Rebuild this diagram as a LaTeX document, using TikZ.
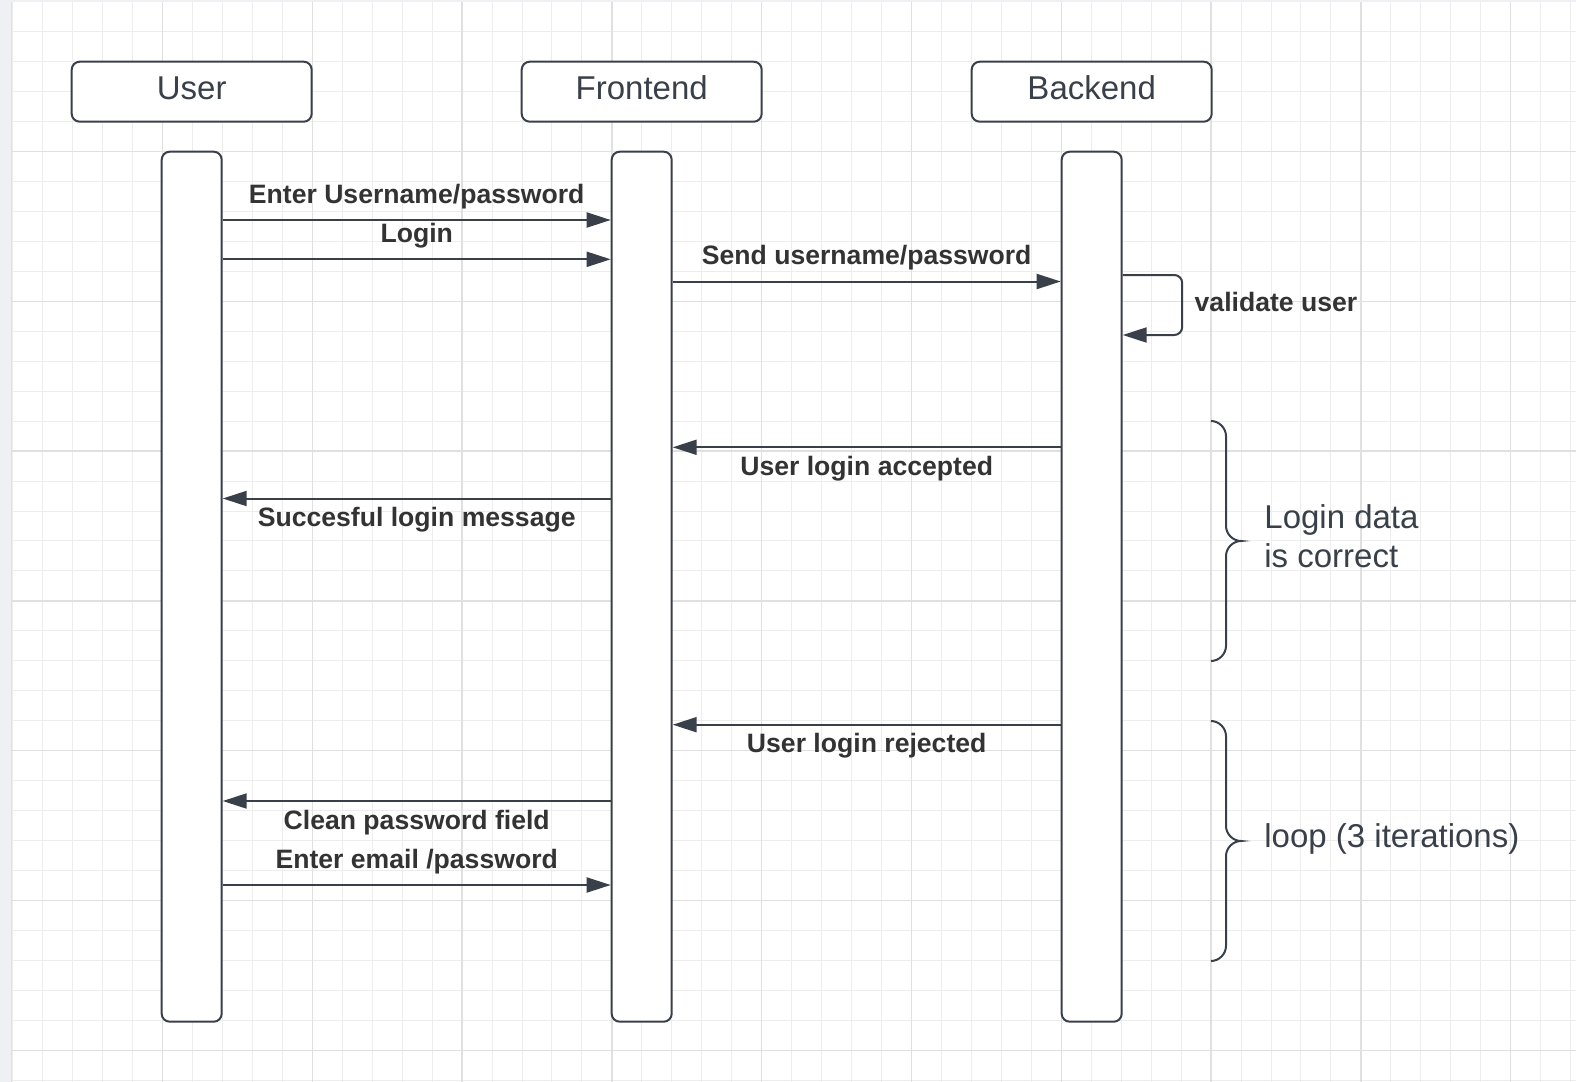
\documentclass[tikz,border=0pt]{standalone}
\usepackage{fontspec}
\setmainfont{Liberation Sans}
\usetikzlibrary{arrows.meta}
\definecolor{inkgray}{HTML}{3A4049}
\definecolor{labelgray}{HTML}{333333}
\definecolor{gridminor}{HTML}{EDEDED}
\definecolor{gridmajor}{HTML}{E0E0E0}
\definecolor{sidestrip}{HTML}{EEF0F3}

\begin{document}
\begin{tikzpicture}[x=0.5pt, y=-0.5pt,
  actor/.style={draw=inkgray, line width=1pt, fill=white, rounded corners=4pt, minimum width=120pt, minimum height=30pt, inner sep=0pt, font=\fontsize{16.5pt}{19.5pt}\selectfont, text=inkgray, text height=10pt, text depth=2.4pt},
  lifebar/.style={draw=inkgray, line width=1pt, fill=white, rounded corners=4pt, minimum width=30pt, minimum height=435pt, inner sep=0pt},
  msg/.style={draw=inkgray, line width=1pt, -{Triangle[length=12pt, width=7.5pt]}},
  msglabel/.style={font=\fontsize{13.3pt}{16pt}\selectfont\bfseries, text=labelgray, anchor=base, inner sep=0pt},
  note/.style={font=\fontsize{16.5pt}{19.5pt}\selectfont, text=inkgray, anchor=base west, align=left, inner sep=0pt},
  bracket/.style={draw=inkgray, line width=1pt}]
\useasboundingbox (0,0) rectangle (1576,1082);
\fill[white] (0,0) rectangle (1576,1082);
% grid paper
\foreach \i in {0,...,52} \draw[gridminor, line width=0.5pt] (12.7+29.96*\i,0) -- (12.7+29.96*\i,1082);
\foreach \j in {0,...,36} \draw[gridminor, line width=0.5pt] (12,1.7+29.96*\j) -- (1576,1.7+29.96*\j);
\foreach \i in {5,10,...,50} \draw[gridmajor, line width=0.7pt] (12.7+29.96*\i,0) -- (12.7+29.96*\i,1082);
\foreach \j in {5,10,...,35} \draw[gridmajor, line width=0.7pt] (12,1.7+29.96*\j) -- (1576,1.7+29.96*\j);
\fill[sidestrip] (0,0) rectangle (12,1082);
\fill[sidestrip] (0,0) rectangle (1576,2);
\draw[gridmajor, line width=0.5pt] (11.5,2) -- (11.5,1082);

% participants
\node[actor] (user) at (191.7,91.7) {User};
\node[actor] (front) at (641.7,91.7) {Frontend};
\node[actor] (back) at (1091.7,91.7) {Backend};

\node[lifebar] (ubar) at (191.7,586.7) {};
\node[lifebar] (fbar) at (641.7,586.7) {};
\node[lifebar] (bbar) at (1091.7,586.7) {};

% messages
\draw[msg] (ubar.east |- 0,220) -- (fbar.west |- 0,220);
\node[msglabel] (enter) at (416.7,203.3) {Enter Username/password};
\draw[msg] (ubar.east |- 0,259.3) -- (fbar.west |- 0,259.3);
\node[msglabel] (login) at (416.7,242.5) {Login};
\draw[msg] (fbar.east |- 0,281.5) -- (bbar.west |- 0,281.5);
\node[msglabel] (send) at (866.7,264.5) {Send username/password};
\draw[msg, rounded corners=4pt] (bbar.east |- 0,275) -- ++(59.5,0) -- ++(0,60) -- (bbar.east |- 0,335);
\node[msglabel, anchor=base west] (validate) at (1194.3,311) {validate user};

\draw[msg] (bbar.west |- 0,447.3) -- (fbar.east |- 0,447.3);
\node[msglabel] (accepted) at (866.7,475.3) {User login accepted};
\draw[msg] (fbar.west |- 0,498.5) -- (ubar.east |- 0,498.5);
\node[msglabel] (success) at (416.7,526.5) {Succesful login message};

\draw[msg] (bbar.west |- 0,724.7) -- (fbar.east |- 0,724.7);
\node[msglabel] (rejected) at (866.7,752.7) {User login rejected};
\draw[msg] (fbar.west |- 0,801) -- (ubar.east |- 0,801);
\node[msglabel] (clean) at (416.7,829.3) {Clean password field};
\draw[msg] (ubar.east |- 0,885) -- (fbar.west |- 0,885);
\node[msglabel] (email) at (416.7,868.3) {Enter email /password};

% side braces
\foreach \t in {421,721}
  \draw[bracket] (1211,\t) .. controls +(8,0) and +(0,-8) .. ++(15,15) -- ++(0,90)
    .. controls +(0,8) and +(-8,0) .. ++(15,15) .. controls +(-8,0) and +(0,-8) .. ++(-15,15)
    -- ++(0,90) .. controls +(0,8) and +(8,0) .. ++(-15,15);
\node[note] (correct) at (1264,567.7) {Login data\\is correct};
\node[note] (loop) at (1264,847.7) {loop (3 iterations)};
\end{tikzpicture}
\end{document}
